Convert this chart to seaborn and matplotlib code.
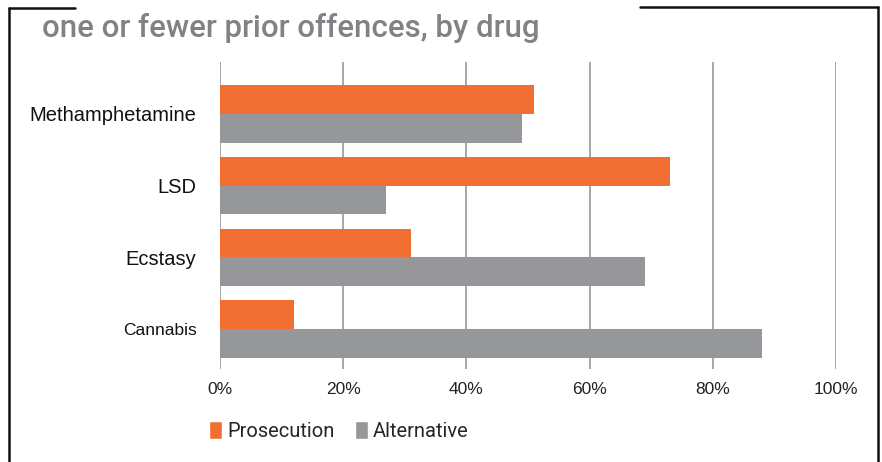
import matplotlib
matplotlib.use("Agg")
import matplotlib.pyplot as plt
from matplotlib.lines import Line2D
from matplotlib.patches import Patch
import pandas as pd
import seaborn as sns

drugs = ["Methamphetamine", "LSD", "Ecstasy", "Cannabis"]
prosecution = [51, 73, 31, 12]
alternative = [49, 27, 69, 88]
groups = ["Prosecution", "Alternative"]
ticks = [0, 20, 40, 60, 80, 100]
title = "one or fewer prior offences, by drug"

orange = "#f26f33"
grey = "#96979a"

df = pd.DataFrame({
    "drug": drugs * 2,
    "group": ["Prosecution"] * 4 + ["Alternative"] * 4,
    "value": prosecution + alternative,
})

sns.set_style("white")
plt.rcParams["font.family"] = ["Liberation Sans", "DejaVu Sans"]

fig = plt.figure(figsize=(8.82, 4.62), dpi=100)
ax = fig.add_axes([220/882, 1-369/462, 616/882, 307/462])

sns.barplot(data=df, x="value", y="drug", hue="group", order=drugs,
            hue_order=groups, palette=[orange, grey], width=0.8,
            saturation=1, orient="h", ax=ax, legend=False, linewidth=0)

ax.set_xlim(0, 100)
ax.set_ylim(3.556, -0.725)
ax.set_xticks(ticks)
ax.set_xticklabels([f"{t}%" for t in ticks], fontsize=12.5, color="#222222")
ax.tick_params(axis="x", length=0, pad=9)
ax.tick_params(axis="y", length=0, pad=17)
for lab in ax.get_yticklabels():
    lab.set_fontsize(14.5 if lab.get_text() != "Cannabis" else 12.5)
    lab.set_color("#111111")
ax.set_xlabel("")
ax.set_ylabel("")
for s in ax.spines.values():
    s.set_visible(False)
ax.grid(axis="x", color="#a0a0a0", linewidth=1.3)
ax.set_axisbelow(True)

handles = [Patch(facecolor=orange), Patch(facecolor=grey)]
fig.legend(handles, groups, loc="center left", bbox_to_anchor=(209/882, 1-431/462),
           ncol=2, frameon=False, handlelength=0.65, handleheight=1.0,
           handletextpad=0.25, columnspacing=1.0, borderpad=0, borderaxespad=0,
           prop={"family": ["Roboto", "DejaVu Sans"], "size": 14.5})

fig.text(42/882, 1-37/462, title, color="#808285", fontsize=22.5,
         family=["Roboto", "DejaVu Sans"], fontweight="medium", va="baseline")

# frame around the panel
lc = "#111111"
fig.add_artist(Line2D([9/882, 9/882], [0, 1-8/462], color=lc, lw=1.8))
fig.add_artist(Line2D([9/882, 75/882], [1-8/462, 1-8/462], color=lc, lw=1.8))
fig.add_artist(Line2D([640/882, 878/882], [1-7/462, 1-7/462], color=lc, lw=1.8))
fig.add_artist(Line2D([878/882, 878/882], [0, 1-7/462], color=lc, lw=1.8))

fig.savefig("out.png", dpi=100)
